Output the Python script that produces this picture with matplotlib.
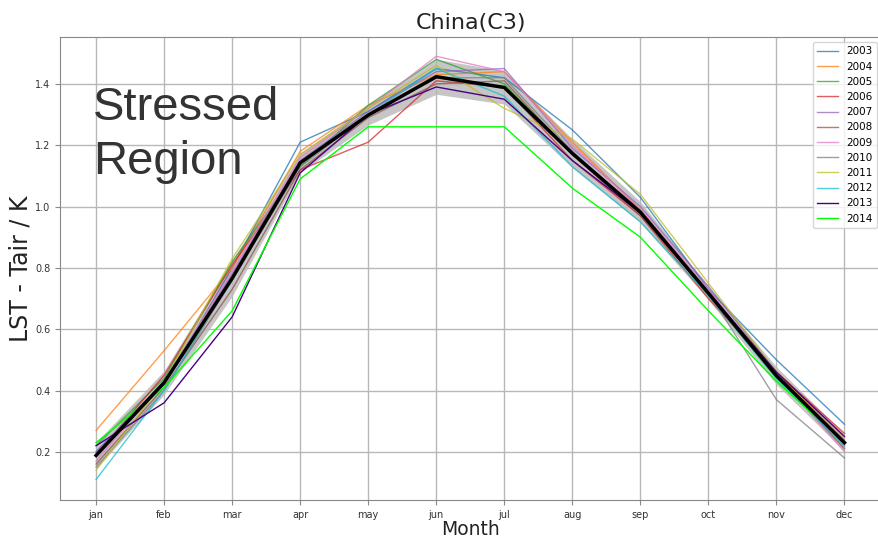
#!/usr/bin/env python3

import matplotlib
matplotlib.use("Agg")
import matplotlib.pyplot as plt
import numpy as np

months = ['jan', 'feb', 'mar', 'apr', 'may', 'jun',
          'jul', 'aug', 'sep', 'oct', 'nov', 'dec']
years = ['2003', '2004', '2005', '2006', '2007', '2008',
         '2009', '2010', '2011', '2012', '2013', '2014']

# LST - Tair per month, one list per year
y2003 = [0.20, 0.42, 0.80, 1.21, 1.31, 1.45, 1.42, 1.25, 1.03, 0.73, 0.50, 0.29]
y2004 = [0.27, 0.53, 0.80, 1.18, 1.33, 1.43, 1.44, 1.21, 0.99, 0.72, 0.46, 0.24]
y2005 = [0.22, 0.44, 0.82, 1.13, 1.33, 1.48, 1.40, 1.17, 0.98, 0.71, 0.44, 0.23]
y2006 = [0.19, 0.45, 0.81, 1.12, 1.21, 1.41, 1.39, 1.15, 0.97, 0.70, 0.46, 0.26]
y2007 = [0.20, 0.43, 0.78, 1.15, 1.31, 1.44, 1.45, 1.19, 1.00, 0.74, 0.46, 0.22]
y2008 = [0.16, 0.41, 0.73, 1.12, 1.29, 1.40, 1.41, 1.17, 0.97, 0.72, 0.45, 0.21]
y2009 = [0.17, 0.43, 0.79, 1.16, 1.32, 1.49, 1.44, 1.20, 0.99, 0.73, 0.45, 0.20]
y2010 = [0.15, 0.40, 0.76, 1.13, 1.30, 1.42, 1.42, 1.18, 0.98, 0.72, 0.37, 0.18]
y2011 = [0.14, 0.43, 0.83, 1.17, 1.32, 1.46, 1.32, 1.22, 1.04, 0.75, 0.46, 0.23]
y2012 = [0.11, 0.40, 0.77, 1.14, 1.30, 1.45, 1.36, 1.13, 0.95, 0.71, 0.44, 0.22]
y2013 = [0.22, 0.36, 0.64, 1.11, 1.30, 1.39, 1.35, 1.15, 0.98, 0.72, 0.46, 0.25]
y2014 = [0.23, 0.41, 0.66, 1.09, 1.26, 1.26, 1.26, 1.06, 0.90, 0.66, 0.43, 0.23]

series = [y2003, y2004, y2005, y2006, y2007, y2008,
          y2009, y2010, y2011, y2012, y2013, y2014]
colors = ['tab:blue', 'tab:orange', 'tab:green', 'tab:red', 'tab:purple',
          'tab:brown', 'tab:pink', 'tab:gray', 'tab:olive', 'tab:cyan',
          'indigo', 'lime']

fig = plt.figure(figsize=(8.79, 5.39), dpi=100)
ax = fig.add_axes([0.0683, 0.0724, 0.935, 0.859])

x = np.arange(len(months))
data = np.array(series)
mean = data.mean(axis=0)
std = data.std(axis=0)

ax.fill_between(x, mean - std, mean + std, color='#a0a0a0', alpha=0.6,
                lw=0, zorder=1)
for yr, vals, c in zip(years, series, colors):
    a = 0.75 if c.startswith('tab:') else 1.0
    ax.plot(x, vals, color=c, lw=1, alpha=a, label=yr, zorder=2)
ax.plot(x, mean, color='black', lw=2.5, zorder=3)

ax.set_xlim(-0.53, 11.55)
ax.set_ylim(0.043, 1.553)
ax.set_xticks(x)
ax.set_xticklabels(months)
ax.set_yticks([0.2, 0.4, 0.6, 0.8, 1.0, 1.2, 1.4])
ax.tick_params(labelsize=7, color='#888888', labelcolor='#333333')
ax.grid(color='#b8b8b8', lw=1)
for sp in ax.spines.values():
    sp.set_color('#888888')

ax.set_title('China(C3)', fontsize=16, color='#222222')
ax.set_xlabel('Month', fontsize=13.5, color='#222222', labelpad=0)
ax.set_ylabel('LST - Tair / K', fontsize=17, color='#222222', labelpad=2)
ax.legend(loc='upper right', fontsize=7.5, framealpha=0.8)

ax.text(0.04, 0.895, 'Stressed\nRegion', transform=ax.transAxes,
        fontsize=34, family='Liberation Sans', color='#333333',
        va='top', ha='left', linespacing=1.3)

fig.savefig('out.png', dpi=100)
